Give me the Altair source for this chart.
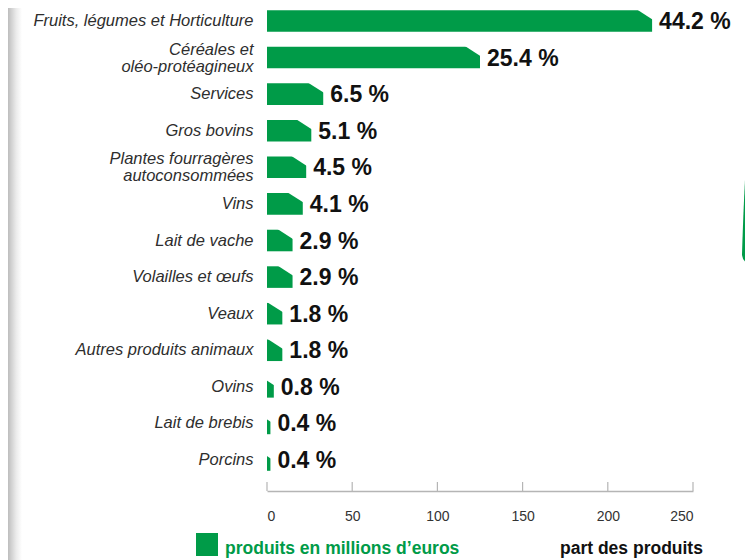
import altair as alt
import pandas as pd

categories = [
    "Fruits, légumes et Horticulture",
    "Céréales et|oléo-protéagineux",
    "Services",
    "Gros bovins",
    "Plantes fourragères|autoconsommées",
    "Vins",
    "Lait de vache",
    "Volailles et œufs",
    "Veaux",
    "Autres produits animaux",
    "Ovins",
    "Lait de brebis",
    "Porcins",
]
values = [226, 125, 33, 26, 23, 21, 15, 15, 9, 9, 4, 2, 2]
shares = [44.2, 25.4, 6.5, 5.1, 4.5, 4.1, 2.9, 2.9, 1.8, 1.8, 0.8, 0.4, 0.4]
x_ticks = [0, 50, 100, 150, 200, 250]
legend_produits = "produits en millions d’euros"
legend_part = "part des produits"

GREEN = "#009B48"
FONT = "Liberation Sans, Arial, Helvetica, sans-serif"
W, H = 426, 465
AX_OFF = 18
SVG_W, SVG_H = 737, 552

df = pd.DataFrame({"cat": categories, "val": values, "share": shares})
df["share_label"] = df["share"].map(lambda v: f"{v:.1f} %")

xscale = alt.Scale(domain=[0, 250], nice=False, zero=True)
yscale = alt.Scale(paddingInner=0.41, paddingOuter=0.06)

xaxis = alt.Axis(
    values=x_ticks,
    format="d",
    grid=False,
    ticks=False,
    tickSize=0,
    domain=True,
    domainColor="#b5b5b5",
    domainWidth=1.5,
    offset=AX_OFF,
    labelFont=FONT,
    labelFontSize=14,
    labelColor="#333333",
    labelPadding=18,
    title=None,
)
yaxis = alt.Axis(
    domain=False,
    ticks=False,
    labelExpr="split(datum.label, '|')",
    labelFont=FONT,
    labelFontSize=16.5,
    labelFontStyle="italic",
    labelColor="#2e2e2e",
    labelPadding=14,
    labelLimit=400,
    labelLineHeight=17,
    labelBaseline="middle",
    labelOffset={
        "condition": {"test": "indexof(datum.label, '|') >= 0", "value": -8},
        "value": 0,
    },
    title=None,
)

X = alt.X("val:Q", scale=xscale, axis=xaxis, title=None)
Y = alt.Y("cat:N", sort=categories, scale=yscale, axis=yaxis, title=None)

base = alt.Chart(df)

bars = base.mark_bar(color=GREEN).encode(x=X, y=Y)

CHAMFER = "M -1.292 -1.042 L 0.125 -1.042 L 0.125 -0.07 L -1.292 -0.98 Z"
chamfer = base.mark_point(
    shape=CHAMFER, size=576, filled=True, color="white", opacity=1, strokeWidth=0
).encode(x=X, y=Y)

pct = base.mark_text(
    align="left",
    baseline="middle",
    dx=7,
    dy=1,
    font=FONT,
    fontSize=23,
    fontWeight="bold",
    color="#111111",
).encode(x=X, y=Y, text="share_label:N")

ticks = alt.Chart(pd.DataFrame({"val": x_ticks})).mark_rule(
    color="#b5b5b5", strokeWidth=1.2
).encode(
    x=X,
    y=alt.value(H + AX_OFF - 9),
    y2=alt.value(H + AX_OFF),
)

one = pd.DataFrame({"d": [0]})

edge = alt.Chart(one).mark_rect(
    color=alt.Gradient(
        gradient="linear",
        x1=0, x2=1, y1=0, y2=0,
        stops=[
            alt.GradientStop(offset=0, color="#bdbdbd"),
            alt.GradientStop(offset=0.25, color="#d2d2d2"),
            alt.GradientStop(offset=0.6, color="#ececec"),
            alt.GradientStop(offset=1, color="#ffffff"),
        ],
    )
).encode(x=alt.value(-259), x2=alt.value(-245), y=alt.value(0), y2=alt.value(SVG_H))

SWOOSH = "M 0.06 -0.905 Q -0.02 -0.185 -0.05 0.865 Q -0.04 0.945 0.03 0.945 L 0.09 0.945 L 0.09 -0.905 Z"
swoosh = alt.Chart(one).mark_point(
    shape=SWOOSH, size=40000, filled=True, color=GREEN, opacity=1, strokeWidth=0
).encode(x=alt.value(480), y=alt.value(160.5))

LEG_Y = 546
leg_sq = alt.Chart(one).mark_rect(color=GREEN).encode(
    x=alt.value(-71), x2=alt.value(-49), y=alt.value(LEG_Y - 21), y2=alt.value(LEG_Y + 2)
)
leg_t1 = alt.Chart(pd.DataFrame({"label": [legend_produits]})).mark_text(
    align="left", baseline="alphabetic", font=FONT, fontSize=17.5,
    fontWeight="bold", color=GREEN,
).encode(x=alt.value(-42), y=alt.value(LEG_Y), text="label:N")
leg_t2 = alt.Chart(pd.DataFrame({"label": [legend_part]})).mark_text(
    align="left", baseline="alphabetic", font=FONT, fontSize=17.5,
    fontWeight="bold", color="#111111",
).encode(x=alt.value(293), y=alt.value(LEG_Y), text="label:N")

chart = alt.layer(
    edge, swoosh, bars, chamfer, pct, ticks, leg_sq, leg_t1, leg_t2
).properties(
    width=W,
    height=H,
    autosize=alt.AutoSizeParams(type="none"),
    padding={"left": 259, "top": 0, "right": SVG_W - 259 - W, "bottom": SVG_H - H},
).configure_view(stroke=None)

chart.save("out.html", embed_options={"renderer": "svg", "actions": False})
